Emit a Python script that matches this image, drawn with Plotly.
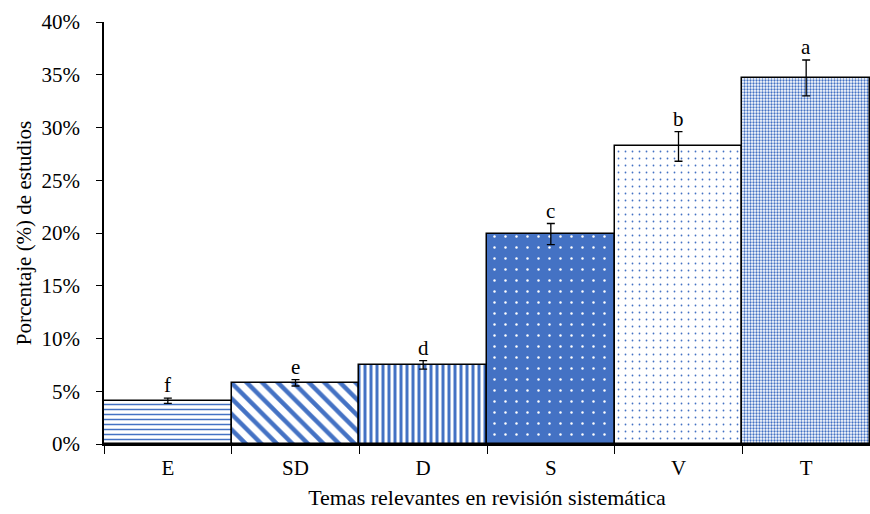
import plotly.graph_objects as go

categories = ["E", "SD", "D", "S", "V", "T"]
values = [4.1, 5.8, 7.5, 19.9, 28.2, 34.7]
errors = [0.25, 0.3, 0.4, 1.0, 1.4, 1.7]
letters = ["f", "e", "d", "c", "b", "a"]

BLUE = "#4472C4"
shapes_ = ["-", "\\", "|", ".", ".", "."]
bg_colors = ["white", "white", "white", BLUE, "white", "white"]
fg_colors = [BLUE, BLUE, BLUE, "white", BLUE, BLUE]
sizes = [5, 11, 6, 11, 7, 3]
solid = [0.3, 0.4, 0.5, 0.04, 0.05, 0.45]

SERIF = "Liberation Serif"

fig = go.Figure()
for i, c in enumerate(categories):
    fig.add_trace(go.Bar(
        x=[c], y=[values[i]],
        marker=dict(
            color=bg_colors[i],
            line=dict(color="black", width=1.5),
            pattern=dict(shape=shapes_[i], fgcolor=fg_colors[i], bgcolor=bg_colors[i],
                         size=sizes[i], solidity=solid[i], fgopacity=1,
                         fillmode="replace"),
        ),
        error_y=dict(type="data", array=[errors[i]], visible=True, color="black",
                     thickness=1.3, width=4),
        width=1.0,
    ))

for c, v, e, l in zip(categories, values, errors, letters):
    fig.add_annotation(x=c, y=v + e, text=l, showarrow=False, yanchor="bottom",
                       yshift=-1, font=dict(family=SERIF, size=21, color="black"))

fig.update_layout(
    width=870, height=514,
    margin=dict(l=104, r=0, t=22, b=70),
    plot_bgcolor="white", paper_bgcolor="white",
    bargap=0, barmode="overlay", showlegend=False,
    font=dict(family=SERIF, size=21, color="black"),
    xaxis=dict(title=dict(text="Temas relevantes en revisión sistemática", standoff=11,
                          font=dict(family=SERIF, size=22)),
               tickfont=dict(family=SERIF, size=21),
               showline=True, linecolor="black", linewidth=1.5,
               ticks="outside", ticklen=8, tickcolor="black", tickson="boundaries",
               ticklabelstandoff=4, showgrid=False),
    yaxis=dict(title=dict(text="Porcentaje (%) de estudios", standoff=4,
                          font=dict(family=SERIF, size=21)),
               tickfont=dict(family=SERIF, size=21),
               range=[0, 40], dtick=5, ticksuffix="%",
               showline=True, linecolor="black", linewidth=1.5,
               ticks="outside", ticklen=6, tickcolor="black", ticklabelstandoff=12,
               showgrid=False, zeroline=False),
)

fig.write_html("out.html")
